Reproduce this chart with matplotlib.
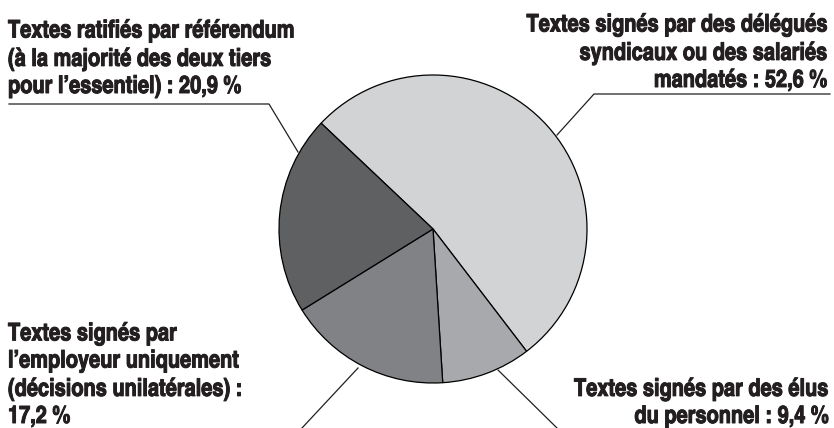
import matplotlib
matplotlib.use('Agg')
import matplotlib.pyplot as plt
from matplotlib import font_manager
import matplotlib.patheffects as pe

# Data
labels = [
    "Textes signés par des délégués\nsyndicaux ou des salariés\nmandatés : 52,6 %",
    "Textes signés par des élus\ndu personnel : 9,4 %",
    "Textes signés par\nl’employeur uniquement\n(décisions unilatérales) :\n17,2 %",
    "Textes ratifiés par référendum\n(à la majorité des deux tiers\npour l’essentiel) : 20,9 %",
]
shares = [52.6, 9.4, 17.2, 20.9]
colors = ['#d1d3d4', '#a7a9ac', '#808285', '#5f6062']

# pick a narrow face if one is installed
installed = {f.name for f in font_manager.fontManager.ttflist}
family = 'DejaVu Sans'
for cand in ['TeX Gyre Heros Cn', 'Liberation Sans Narrow', 'Roboto Condensed']:
    if cand in installed:
        family = cand
        break

W, H = 834, 428
fig = plt.figure(figsize=(W / 100, H / 100), dpi=100)
ax = fig.add_axes([0, 0, 1, 1])

def py(y):
    # pixel row (from top) -> data y
    return H - y

ax.pie(shares, colors=colors, startangle=136.6, counterclock=False,
       center=(433, py(229)), radius=154,
       wedgeprops=dict(edgecolor='black', linewidth=0.9), frame=True)
ax.set_xlim(0, W)
ax.set_ylim(0, H)
ax.set_aspect('equal')
ax.axis('off')

# size the font so the widest line matches the reference (about 289 px)
renderer = fig.canvas.get_renderer()
probe = ax.text(0, 0, "Textes ratifiés par référendum", family=[family, 'DejaVu Sans'],
                fontweight='bold', fontsize=15)
w = probe.get_window_extent(renderer).width
probe.remove()
size = 15 * 287 / w

font = dict(family=[family, 'DejaVu Sans'], fontweight='bold',
            fontsize=size, color='#231f20', linespacing=1.3,
            path_effects=[pe.withStroke(linewidth=0.7, foreground='#231f20')])

# y = baseline of the last line of each label
ax.text(827, py(87), labels[0], ha='right', va='baseline', multialignment='right', **font)
ax.text(828, py(423), labels[1], ha='right', va='baseline', multialignment='right', **font)
ax.text(8, py(423), labels[2], ha='left', va='baseline', **font)
ax.text(8, py(93), labels[3], ha='left', va='baseline', **font)

line = dict(color='#231f20', linewidth=0.9)
ax.plot([830, 594, 557], [py(94), py(94), py(135)], **line)
ax.plot([9, 269, 298], [py(104), py(104), py(152)], **line)
ax.plot([358, 302], [py(368), py(428)], **line)
ax.plot([498, 557], [py(370), py(428)], **line)

fig.savefig('out.png', dpi=100)
